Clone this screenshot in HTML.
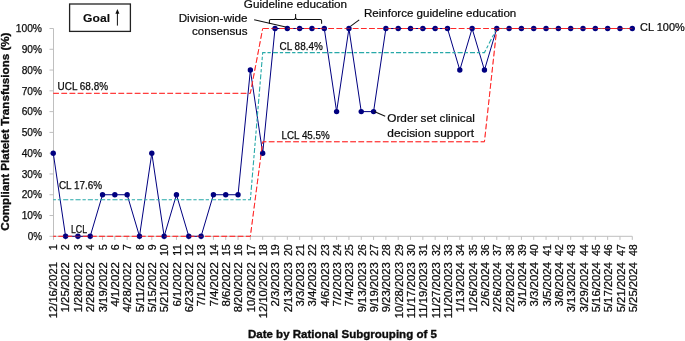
<!DOCTYPE html>
<html lang="en">
<head>
<meta charset="utf-8">
<title>Compliant Platelet Transfusions control chart</title>
<style>
html,body{margin:0;padding:0;background:#fff;}
body{width:685px;height:341px;overflow:hidden;}
svg{display:block;}
text{font-family:"Liberation Sans",sans-serif;fill:#0c0c0c;stroke:#0c0c0c;stroke-width:0.25px;}
.ax{font-size:10.4px;}
.an{font-size:11.6px;fill:#0a0a0a;stroke:#0a0a0a;stroke-width:0.22px;}
.b{font-weight:bold;stroke:#0c0c0c;stroke-width:0.35px;}
</style>
</head>
<body>
<svg width="685" height="341" viewBox="0 0 685 341">
<rect width="685" height="341" fill="#fff"/>

<g stroke="#bfbfbf" stroke-width="1" fill="none">
<path d="M53.5 28.5 V239.9"/>
<path d="M53.25 236.3 H632.29"/>
<path d="M49.5 236.3 H53.5M49.5 215.52 H53.5M49.5 194.74 H53.5M49.5 173.96 H53.5M49.5 153.18 H53.5M49.5 132.4 H53.5M49.5 111.62 H53.5M49.5 90.84 H53.5M49.5 70.06 H53.5M49.5 49.28 H53.5M49.5 28.5 H53.5"/>
<path d="M65.57 236.3 v3.6M77.89 236.3 v3.6M90.21 236.3 v3.6M102.53 236.3 v3.6M114.85 236.3 v3.6M127.17 236.3 v3.6M139.49 236.3 v3.6M151.81 236.3 v3.6M164.13 236.3 v3.6M176.45 236.3 v3.6M188.77 236.3 v3.6M201.09 236.3 v3.6M213.41 236.3 v3.6M225.73 236.3 v3.6M238.05 236.3 v3.6M250.37 236.3 v3.6M262.69 236.3 v3.6M275.01 236.3 v3.6M287.33 236.3 v3.6M299.65 236.3 v3.6M311.97 236.3 v3.6M324.29 236.3 v3.6M336.61 236.3 v3.6M348.93 236.3 v3.6M361.25 236.3 v3.6M373.57 236.3 v3.6M385.89 236.3 v3.6M398.21 236.3 v3.6M410.53 236.3 v3.6M422.85 236.3 v3.6M435.17 236.3 v3.6M447.49 236.3 v3.6M459.81 236.3 v3.6M472.13 236.3 v3.6M484.45 236.3 v3.6M496.77 236.3 v3.6M509.09 236.3 v3.6M521.41 236.3 v3.6M533.73 236.3 v3.6M546.05 236.3 v3.6M558.37 236.3 v3.6M570.69 236.3 v3.6M583.01 236.3 v3.6M595.33 236.3 v3.6M607.65 236.3 v3.6M619.97 236.3 v3.6M632.29 236.3 v3.6"/>
</g>
<g class="ax" text-anchor="end">
<text x="42" y="240" textLength="14.36" lengthAdjust="spacingAndGlyphs">0%</text>
<text x="42" y="219.22" textLength="20.32" lengthAdjust="spacingAndGlyphs">10%</text>
<text x="42" y="198.44" textLength="20.32" lengthAdjust="spacingAndGlyphs">20%</text>
<text x="42" y="177.66" textLength="20.32" lengthAdjust="spacingAndGlyphs">30%</text>
<text x="42" y="156.88" textLength="20.32" lengthAdjust="spacingAndGlyphs">40%</text>
<text x="42" y="136.1" textLength="20.32" lengthAdjust="spacingAndGlyphs">50%</text>
<text x="42" y="115.32" textLength="20.32" lengthAdjust="spacingAndGlyphs">60%</text>
<text x="42" y="94.54" textLength="20.32" lengthAdjust="spacingAndGlyphs">70%</text>
<text x="42" y="73.76" textLength="20.32" lengthAdjust="spacingAndGlyphs">80%</text>
<text x="42" y="52.98" textLength="20.32" lengthAdjust="spacingAndGlyphs">90%</text>
<text x="42" y="32.2" textLength="26.27" lengthAdjust="spacingAndGlyphs">100%</text>
</g>
<g class="ax" text-anchor="end">
<text transform="translate(57.15 244.2) rotate(-90)" textLength="5.96" lengthAdjust="spacingAndGlyphs">1</text>
<text transform="translate(57.15 262.1) rotate(-90)" textLength="56.1" lengthAdjust="spacingAndGlyphs">12/16/2021</text>
<text transform="translate(69.49 244.2) rotate(-90)" textLength="5.96" lengthAdjust="spacingAndGlyphs">2</text>
<text transform="translate(69.49 262.1) rotate(-90)" textLength="50.21" lengthAdjust="spacingAndGlyphs">1/25/2022</text>
<text transform="translate(81.83 244.2) rotate(-90)" textLength="5.96" lengthAdjust="spacingAndGlyphs">3</text>
<text transform="translate(81.83 262.1) rotate(-90)" textLength="50.21" lengthAdjust="spacingAndGlyphs">1/28/2022</text>
<text transform="translate(94.16 244.2) rotate(-90)" textLength="5.96" lengthAdjust="spacingAndGlyphs">4</text>
<text transform="translate(94.16 262.1) rotate(-90)" textLength="50.21" lengthAdjust="spacingAndGlyphs">2/28/2022</text>
<text transform="translate(106.5 244.2) rotate(-90)" textLength="5.96" lengthAdjust="spacingAndGlyphs">5</text>
<text transform="translate(106.5 262.1) rotate(-90)" textLength="50.21" lengthAdjust="spacingAndGlyphs">3/19/2022</text>
<text transform="translate(118.84 244.2) rotate(-90)" textLength="5.96" lengthAdjust="spacingAndGlyphs">6</text>
<text transform="translate(118.84 262.1) rotate(-90)" textLength="44.32" lengthAdjust="spacingAndGlyphs">4/1/2022</text>
<text transform="translate(131.18 244.2) rotate(-90)" textLength="5.96" lengthAdjust="spacingAndGlyphs">7</text>
<text transform="translate(131.18 262.1) rotate(-90)" textLength="50.21" lengthAdjust="spacingAndGlyphs">4/28/2022</text>
<text transform="translate(143.52 244.2) rotate(-90)" textLength="5.96" lengthAdjust="spacingAndGlyphs">8</text>
<text transform="translate(143.52 262.1) rotate(-90)" textLength="50.21" lengthAdjust="spacingAndGlyphs">5/11/2022</text>
<text transform="translate(155.85 244.2) rotate(-90)" textLength="5.96" lengthAdjust="spacingAndGlyphs">9</text>
<text transform="translate(155.85 262.1) rotate(-90)" textLength="50.21" lengthAdjust="spacingAndGlyphs">5/15/2022</text>
<text transform="translate(168.19 244.2) rotate(-90)" textLength="11.91" lengthAdjust="spacingAndGlyphs">10</text>
<text transform="translate(168.19 262.1) rotate(-90)" textLength="50.21" lengthAdjust="spacingAndGlyphs">5/21/2022</text>
<text transform="translate(180.53 244.2) rotate(-90)" textLength="11.91" lengthAdjust="spacingAndGlyphs">11</text>
<text transform="translate(180.53 262.1) rotate(-90)" textLength="44.32" lengthAdjust="spacingAndGlyphs">6/1/2022</text>
<text transform="translate(192.87 244.2) rotate(-90)" textLength="11.91" lengthAdjust="spacingAndGlyphs">12</text>
<text transform="translate(192.87 262.1) rotate(-90)" textLength="50.21" lengthAdjust="spacingAndGlyphs">6/23/2022</text>
<text transform="translate(205.21 244.2) rotate(-90)" textLength="11.91" lengthAdjust="spacingAndGlyphs">13</text>
<text transform="translate(205.21 262.1) rotate(-90)" textLength="44.32" lengthAdjust="spacingAndGlyphs">7/1/2022</text>
<text transform="translate(217.54 244.2) rotate(-90)" textLength="11.91" lengthAdjust="spacingAndGlyphs">14</text>
<text transform="translate(217.54 262.1) rotate(-90)" textLength="44.32" lengthAdjust="spacingAndGlyphs">7/4/2022</text>
<text transform="translate(229.88 244.2) rotate(-90)" textLength="11.91" lengthAdjust="spacingAndGlyphs">15</text>
<text transform="translate(229.88 262.1) rotate(-90)" textLength="44.32" lengthAdjust="spacingAndGlyphs">8/6/2022</text>
<text transform="translate(242.22 244.2) rotate(-90)" textLength="11.91" lengthAdjust="spacingAndGlyphs">16</text>
<text transform="translate(242.22 262.1) rotate(-90)" textLength="50.21" lengthAdjust="spacingAndGlyphs">8/20/2022</text>
<text transform="translate(254.56 244.2) rotate(-90)" textLength="11.91" lengthAdjust="spacingAndGlyphs">17</text>
<text transform="translate(254.56 262.1) rotate(-90)" textLength="50.21" lengthAdjust="spacingAndGlyphs">10/3/2022</text>
<text transform="translate(266.9 244.2) rotate(-90)" textLength="11.91" lengthAdjust="spacingAndGlyphs">18</text>
<text transform="translate(266.9 262.1) rotate(-90)" textLength="56.1" lengthAdjust="spacingAndGlyphs">12/10/2022</text>
<text transform="translate(279.23 244.2) rotate(-90)" textLength="11.91" lengthAdjust="spacingAndGlyphs">19</text>
<text transform="translate(279.23 262.1) rotate(-90)" textLength="44.32" lengthAdjust="spacingAndGlyphs">2/3/2023</text>
<text transform="translate(291.57 244.2) rotate(-90)" textLength="11.91" lengthAdjust="spacingAndGlyphs">20</text>
<text transform="translate(291.57 262.1) rotate(-90)" textLength="50.21" lengthAdjust="spacingAndGlyphs">2/13/2023</text>
<text transform="translate(303.91 244.2) rotate(-90)" textLength="11.91" lengthAdjust="spacingAndGlyphs">21</text>
<text transform="translate(303.91 262.1) rotate(-90)" textLength="44.32" lengthAdjust="spacingAndGlyphs">3/3/2023</text>
<text transform="translate(316.25 244.2) rotate(-90)" textLength="11.91" lengthAdjust="spacingAndGlyphs">22</text>
<text transform="translate(316.25 262.1) rotate(-90)" textLength="44.32" lengthAdjust="spacingAndGlyphs">3/4/2023</text>
<text transform="translate(328.59 244.2) rotate(-90)" textLength="11.91" lengthAdjust="spacingAndGlyphs">23</text>
<text transform="translate(328.59 262.1) rotate(-90)" textLength="44.32" lengthAdjust="spacingAndGlyphs">4/6/2023</text>
<text transform="translate(340.92 244.2) rotate(-90)" textLength="11.91" lengthAdjust="spacingAndGlyphs">24</text>
<text transform="translate(340.92 262.1) rotate(-90)" textLength="44.32" lengthAdjust="spacingAndGlyphs">7/2/2023</text>
<text transform="translate(353.26 244.2) rotate(-90)" textLength="11.91" lengthAdjust="spacingAndGlyphs">25</text>
<text transform="translate(353.26 262.1) rotate(-90)" textLength="44.32" lengthAdjust="spacingAndGlyphs">7/4/2023</text>
<text transform="translate(365.6 244.2) rotate(-90)" textLength="11.91" lengthAdjust="spacingAndGlyphs">26</text>
<text transform="translate(365.6 262.1) rotate(-90)" textLength="50.21" lengthAdjust="spacingAndGlyphs">9/13/2023</text>
<text transform="translate(377.94 244.2) rotate(-90)" textLength="11.91" lengthAdjust="spacingAndGlyphs">27</text>
<text transform="translate(377.94 262.1) rotate(-90)" textLength="50.21" lengthAdjust="spacingAndGlyphs">9/19/2023</text>
<text transform="translate(390.28 244.2) rotate(-90)" textLength="11.91" lengthAdjust="spacingAndGlyphs">28</text>
<text transform="translate(390.28 262.1) rotate(-90)" textLength="50.21" lengthAdjust="spacingAndGlyphs">9/23/2023</text>
<text transform="translate(402.61 244.2) rotate(-90)" textLength="11.91" lengthAdjust="spacingAndGlyphs">29</text>
<text transform="translate(402.61 262.1) rotate(-90)" textLength="56.1" lengthAdjust="spacingAndGlyphs">10/28/2023</text>
<text transform="translate(414.95 244.2) rotate(-90)" textLength="11.91" lengthAdjust="spacingAndGlyphs">30</text>
<text transform="translate(414.95 262.1) rotate(-90)" textLength="56.1" lengthAdjust="spacingAndGlyphs">11/17/2023</text>
<text transform="translate(427.29 244.2) rotate(-90)" textLength="11.91" lengthAdjust="spacingAndGlyphs">31</text>
<text transform="translate(427.29 262.1) rotate(-90)" textLength="56.1" lengthAdjust="spacingAndGlyphs">11/19/2023</text>
<text transform="translate(439.63 244.2) rotate(-90)" textLength="11.91" lengthAdjust="spacingAndGlyphs">32</text>
<text transform="translate(439.63 262.1) rotate(-90)" textLength="56.1" lengthAdjust="spacingAndGlyphs">11/27/2023</text>
<text transform="translate(451.97 244.2) rotate(-90)" textLength="11.91" lengthAdjust="spacingAndGlyphs">33</text>
<text transform="translate(451.97 262.1) rotate(-90)" textLength="56.1" lengthAdjust="spacingAndGlyphs">11/20/2023</text>
<text transform="translate(464.3 244.2) rotate(-90)" textLength="11.91" lengthAdjust="spacingAndGlyphs">34</text>
<text transform="translate(464.3 262.1) rotate(-90)" textLength="50.21" lengthAdjust="spacingAndGlyphs">1/13/2024</text>
<text transform="translate(476.64 244.2) rotate(-90)" textLength="11.91" lengthAdjust="spacingAndGlyphs">35</text>
<text transform="translate(476.64 262.1) rotate(-90)" textLength="50.21" lengthAdjust="spacingAndGlyphs">1/26/2024</text>
<text transform="translate(488.98 244.2) rotate(-90)" textLength="11.91" lengthAdjust="spacingAndGlyphs">36</text>
<text transform="translate(488.98 262.1) rotate(-90)" textLength="44.32" lengthAdjust="spacingAndGlyphs">2/6/2024</text>
<text transform="translate(501.32 244.2) rotate(-90)" textLength="11.91" lengthAdjust="spacingAndGlyphs">37</text>
<text transform="translate(501.32 262.1) rotate(-90)" textLength="50.21" lengthAdjust="spacingAndGlyphs">2/26/2024</text>
<text transform="translate(513.66 244.2) rotate(-90)" textLength="11.91" lengthAdjust="spacingAndGlyphs">38</text>
<text transform="translate(513.66 262.1) rotate(-90)" textLength="50.21" lengthAdjust="spacingAndGlyphs">2/28/2024</text>
<text transform="translate(525.99 244.2) rotate(-90)" textLength="11.91" lengthAdjust="spacingAndGlyphs">39</text>
<text transform="translate(525.99 262.1) rotate(-90)" textLength="44.32" lengthAdjust="spacingAndGlyphs">3/1/2024</text>
<text transform="translate(538.33 244.2) rotate(-90)" textLength="11.91" lengthAdjust="spacingAndGlyphs">40</text>
<text transform="translate(538.33 262.1) rotate(-90)" textLength="44.32" lengthAdjust="spacingAndGlyphs">3/3/2024</text>
<text transform="translate(550.67 244.2) rotate(-90)" textLength="11.91" lengthAdjust="spacingAndGlyphs">41</text>
<text transform="translate(550.67 262.1) rotate(-90)" textLength="44.32" lengthAdjust="spacingAndGlyphs">3/5/2024</text>
<text transform="translate(563.01 244.2) rotate(-90)" textLength="11.91" lengthAdjust="spacingAndGlyphs">42</text>
<text transform="translate(563.01 262.1) rotate(-90)" textLength="44.32" lengthAdjust="spacingAndGlyphs">3/8/2024</text>
<text transform="translate(575.35 244.2) rotate(-90)" textLength="11.91" lengthAdjust="spacingAndGlyphs">43</text>
<text transform="translate(575.35 262.1) rotate(-90)" textLength="50.21" lengthAdjust="spacingAndGlyphs">3/13/2024</text>
<text transform="translate(587.68 244.2) rotate(-90)" textLength="11.91" lengthAdjust="spacingAndGlyphs">44</text>
<text transform="translate(587.68 262.1) rotate(-90)" textLength="50.21" lengthAdjust="spacingAndGlyphs">3/29/2024</text>
<text transform="translate(600.02 244.2) rotate(-90)" textLength="11.91" lengthAdjust="spacingAndGlyphs">45</text>
<text transform="translate(600.02 262.1) rotate(-90)" textLength="50.21" lengthAdjust="spacingAndGlyphs">5/16/2024</text>
<text transform="translate(612.36 244.2) rotate(-90)" textLength="11.91" lengthAdjust="spacingAndGlyphs">46</text>
<text transform="translate(612.36 262.1) rotate(-90)" textLength="50.21" lengthAdjust="spacingAndGlyphs">5/17/2024</text>
<text transform="translate(624.7 244.2) rotate(-90)" textLength="11.91" lengthAdjust="spacingAndGlyphs">47</text>
<text transform="translate(624.7 262.1) rotate(-90)" textLength="50.21" lengthAdjust="spacingAndGlyphs">5/21/2024</text>
<text transform="translate(637.04 244.2) rotate(-90)" textLength="11.91" lengthAdjust="spacingAndGlyphs">48</text>
<text transform="translate(637.04 262.1) rotate(-90)" textLength="50.21" lengthAdjust="spacingAndGlyphs">5/25/2024</text>
</g>
<polyline points="53.25,153.18 65.57,236.3 77.89,236.3 90.21,236.3 102.53,194.74 114.85,194.74 127.17,194.74 139.49,236.3 151.81,153.18 164.13,236.3 176.45,194.74 188.77,236.3 201.09,236.3 213.41,194.74 225.73,194.74 238.05,194.74 250.37,70.06 262.69,153.18 275.01,28.5 287.33,28.5 299.65,28.5 311.97,28.5 324.29,28.5 336.61,111.62 348.93,28.5 361.25,111.62 373.57,111.62 385.89,28.5 398.21,28.5 410.53,28.5 422.85,28.5 435.17,28.5 447.49,28.5 459.81,70.06 472.13,28.5 484.45,70.06 496.77,28.5 509.09,28.5 521.41,28.5 533.73,28.5 546.05,28.5 558.37,28.5 570.69,28.5 583.01,28.5 595.33,28.5 607.65,28.5 619.97,28.5 632.29,28.5" fill="none" stroke="#000080" stroke-width="1" stroke-linejoin="round"/>
<polyline points="53.25,199.73 250.37,199.73 262.69,52.6 484.45,52.6 496.77,28.5" fill="none" stroke="#27a9a9" stroke-width="1.1" stroke-dasharray="5.1 1.9 3.3 2.02" stroke-dashoffset="2.4"/>
<polyline points="496.77,28.5 632.29,28.5" fill="none" stroke="#27a9a9" stroke-width="1.1" stroke-dasharray="5.1 1.9 3.3 2.02" stroke-dashoffset="2.3"/>
<polyline points="53.25,93.33 250.37,93.33 262.69,28.5" fill="none" stroke="#ff2828" stroke-width="1" stroke-dasharray="5.7 2.45"/>
<polyline points="262.69,28.5 496.77,28.5" fill="none" stroke="#ff2828" stroke-width="1" stroke-dasharray="5.7 2.45" stroke-dashoffset="7.7"/>
<polyline points="53.25,236.3 250.37,236.3 262.69,141.75 484.45,141.75 496.77,28.5" fill="none" stroke="#ff2828" stroke-width="1" stroke-dasharray="5.7 2.45" stroke-dashoffset="3"/>
<polyline points="496.77,28.5 632.29,28.5" fill="none" stroke="#ff2020" stroke-width="1.1" stroke-dasharray="6.1 2.113" stroke-dashoffset="1"/>
<g fill="#000080">
<circle cx="53.25" cy="153.18" r="2.7"/>
<circle cx="65.57" cy="236.3" r="2.7"/>
<circle cx="77.89" cy="236.3" r="2.7"/>
<circle cx="90.21" cy="236.3" r="2.7"/>
<circle cx="102.53" cy="194.74" r="2.7"/>
<circle cx="114.85" cy="194.74" r="2.7"/>
<circle cx="127.17" cy="194.74" r="2.7"/>
<circle cx="139.49" cy="236.3" r="2.7"/>
<circle cx="151.81" cy="153.18" r="2.7"/>
<circle cx="164.13" cy="236.3" r="2.7"/>
<circle cx="176.45" cy="194.74" r="2.7"/>
<circle cx="188.77" cy="236.3" r="2.7"/>
<circle cx="201.09" cy="236.3" r="2.7"/>
<circle cx="213.41" cy="194.74" r="2.7"/>
<circle cx="225.73" cy="194.74" r="2.7"/>
<circle cx="238.05" cy="194.74" r="2.7"/>
<circle cx="250.37" cy="70.06" r="2.7"/>
<circle cx="262.69" cy="153.18" r="2.7"/>
<circle cx="275.01" cy="28.5" r="2.7"/>
<circle cx="287.33" cy="28.5" r="2.7"/>
<circle cx="299.65" cy="28.5" r="2.7"/>
<circle cx="311.97" cy="28.5" r="2.7"/>
<circle cx="324.29" cy="28.5" r="2.7"/>
<circle cx="336.61" cy="111.62" r="2.7"/>
<circle cx="348.93" cy="28.5" r="2.7"/>
<circle cx="361.25" cy="111.62" r="2.7"/>
<circle cx="373.57" cy="111.62" r="2.7"/>
<circle cx="385.89" cy="28.5" r="2.7"/>
<circle cx="398.21" cy="28.5" r="2.7"/>
<circle cx="410.53" cy="28.5" r="2.7"/>
<circle cx="422.85" cy="28.5" r="2.7"/>
<circle cx="435.17" cy="28.5" r="2.7"/>
<circle cx="447.49" cy="28.5" r="2.7"/>
<circle cx="459.81" cy="70.06" r="2.7"/>
<circle cx="472.13" cy="28.5" r="2.7"/>
<circle cx="484.45" cy="70.06" r="2.7"/>
<circle cx="496.77" cy="28.5" r="2.7"/>
<circle cx="509.09" cy="28.5" r="2.7"/>
<circle cx="521.41" cy="28.5" r="2.7"/>
<circle cx="533.73" cy="28.5" r="2.7"/>
<circle cx="546.05" cy="28.5" r="2.7"/>
<circle cx="558.37" cy="28.5" r="2.7"/>
<circle cx="570.69" cy="28.5" r="2.7"/>
<circle cx="583.01" cy="28.5" r="2.7"/>
<circle cx="595.33" cy="28.5" r="2.7"/>
<circle cx="607.65" cy="28.5" r="2.7"/>
<circle cx="619.97" cy="28.5" r="2.7"/>
<circle cx="632.29" cy="28.5" r="2.7"/>
</g>
<g opacity="0.45">
<polyline points="53.25,93.33 250.37,93.33 262.69,28.5" fill="none" stroke="#ff2828" stroke-width="1" stroke-dasharray="5.7 2.45"/>
<polyline points="262.69,28.5 496.77,28.5" fill="none" stroke="#ff2828" stroke-width="1" stroke-dasharray="5.7 2.45" stroke-dashoffset="7.7"/>
<polyline points="53.25,236.3 250.37,236.3 262.69,141.75 484.45,141.75 496.77,28.5" fill="none" stroke="#ff2828" stroke-width="1" stroke-dasharray="5.7 2.45" stroke-dashoffset="3"/>
<polyline points="496.77,28.5 632.29,28.5" fill="none" stroke="#ff2020" stroke-width="1.1"/>
</g>
<text class="ax" x="57.6" y="90.2" textLength="50.41" lengthAdjust="spacingAndGlyphs">UCL 68.8%</text>
<text class="ax" x="58.9" y="188.8" textLength="43.09" lengthAdjust="spacingAndGlyphs">CL 17.6%</text>
<text class="ax" x="70.9" y="232.8" textLength="16.13" lengthAdjust="spacingAndGlyphs">LCL</text>
<text class="ax" x="279.6" y="49.85" textLength="43.09" lengthAdjust="spacingAndGlyphs">CL 88.4%</text>
<text class="ax" x="281.6" y="138.7" textLength="48.02" lengthAdjust="spacingAndGlyphs">LCL 45.5%</text>
<text class="an" x="640.1" y="30.9" style="font-size:10.5px" textLength="44.6" lengthAdjust="spacingAndGlyphs">CL 100%</text>
<text class="an" x="243.8" y="7.9" textLength="103.3" lengthAdjust="spacingAndGlyphs">Guideline education</text>
<text class="an" x="247.5" y="21.5" text-anchor="end" textLength="68.8" lengthAdjust="spacingAndGlyphs">Division-wide</text>
<text class="an" x="247.5" y="35.3" text-anchor="end">consensus</text>
<text class="an" x="363.9" y="16.9" textLength="152.4" lengthAdjust="spacingAndGlyphs">Reinforce guideline education</text>
<text class="an" x="387.3" y="122.05" textLength="87.5" lengthAdjust="spacingAndGlyphs">Order set clinical</text>
<text class="an" x="387.3" y="136.5" textLength="86.7" lengthAdjust="spacingAndGlyphs">decision support</text>
<g stroke="#111" stroke-width="1.05" fill="none">
<path d="M254.2 19.7 L285.8 27.1"/>
<path d="M359.2 19.9 L350.4 26.3"/>
<path d="M374.2 111.5 L385.2 116.3"/>
<path d="M269.4 23.8 V20.7 Q269.4 19.5 270.6 19.5 H293.8 Q295.6 19.5 295.6 17.2 V14.1 M295.6 17.2 Q295.6 19.5 297.4 19.5 H320.4 Q321.6 19.5 321.6 20.7 V23.8"/>
</g>
<rect x="69.6" y="4" width="60.8" height="27.4" fill="#fff" stroke="#222" stroke-width="1.3"/>
<text class="b" x="83.1" y="22.3" style="font-size:11.5px;stroke-width:0.12px" textLength="26.9" lengthAdjust="spacingAndGlyphs">Goal</text>
<path d="M117.4 25.6 V12" stroke="#111" stroke-width="1" fill="none"/>
<path d="M117.4 9.1 L119.4 13.8 H115.4 Z" fill="#111"/>
<text class="b" x="247.9" y="338" style="font-size:11.4px" textLength="189" lengthAdjust="spacingAndGlyphs">Date by Rational Subgrouping of 5</text>
<text class="b" transform="translate(9.1 230.7) rotate(-90)" style="font-size:11.2px" textLength="198.2" lengthAdjust="spacingAndGlyphs">Compliant Platelet Transfusions (%)</text>
</svg>
</body>
</html>
